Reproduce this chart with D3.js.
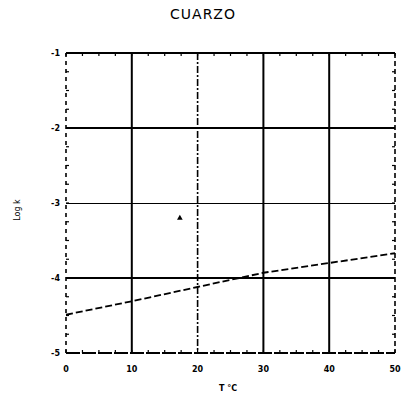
<!DOCTYPE html>
<html>
<head>
<meta charset="utf-8">
<script src="https://cdnjs.cloudflare.com/ajax/libs/d3/7.8.5/d3.min.js"></script>
<style>
body{margin:0;background:#fff;}
svg{display:block;font-family:"DejaVu Sans",sans-serif;}
</style>
</head>
<body>
<div id="chart"></div>
<script>
// data
var tempC = [0, 10, 20, 30, 40, 50];
var logK = [-4.49, -4.31, -4.12, -3.93, -3.80, -3.67];
var pointT = [17.3];
var pointLogK = [-3.2];
var xTicks = [0, 10, 20, 30, 40, 50];
var yTicks = [-1, -2, -3, -4, -5];
var gridX = [10, 20, 30, 40];
var gridY = [-2, -3, -4];

var svg = d3.select("#chart").append("svg").attr("width", 403).attr("height", 404);
var x = d3.scaleLinear().domain([0, 50]).range([66, 395]);
var y = d3.scaleLinear().domain([-1, -5]).range([53, 353]);

// grid lines (mixed styles like the scan)
var vStyle = ["", "7,2,2,2", "", ""];
var vWidth = [2, 1.6, 2, 2];
svg.selectAll(".gx").data(gridX).enter().append("line")
	.attr("x1", function(d){return x(d);}).attr("x2", function(d){return x(d);})
	.attr("y1", y(-1)).attr("y2", y(-5))
	.attr("stroke", "#000").attr("stroke-width", function(d,i){return vWidth[i];})
	.attr("stroke-dasharray", function(d,i){return vStyle[i];});
var hWidth = [2, 1, 2];
svg.selectAll(".gy").data(gridY).enter().append("line")
	.attr("x1", x(0)).attr("x2", x(50))
	.attr("y1", function(d){return y(d);}).attr("y2", function(d){return y(d);})
	.attr("stroke", "#000").attr("stroke-width", function(d,i){return hWidth[i];})
	.attr("shape-rendering", "crispEdges");

// frame
svg.append("line").attr("x1", x(0)).attr("x2", x(50)).attr("y1", y(-1)).attr("y2", y(-1))
	.attr("stroke", "#000").attr("stroke-width", 2);
svg.append("line").attr("x1", x(0)).attr("x2", x(50)).attr("y1", y(-5)).attr("y2", y(-5))
	.attr("stroke", "#000").attr("stroke-width", 2).attr("stroke-dasharray", "14,2");
svg.append("line").attr("x1", x(0)).attr("x2", x(0)).attr("y1", y(-1)).attr("y2", y(-5))
	.attr("stroke", "#000").attr("stroke-width", 1.6).attr("stroke-dasharray", "4,4");
svg.append("line").attr("x1", x(50)).attr("x2", x(50)).attr("y1", y(-1)).attr("y2", y(-5))
	.attr("stroke", "#000").attr("stroke-width", 1.6).attr("stroke-dasharray", "5,3");

// minor ticks
var minorX = d3.range(0, 51, 2.5);
svg.selectAll(".mt").data(minorX).enter().append("line")
	.attr("x1", function(d){return x(d);}).attr("x2", function(d){return x(d);})
	.attr("y1", y(-1)).attr("y2", y(-1) + 3)
	.attr("stroke", "#000").attr("stroke-width", 1.2);
svg.selectAll(".mb").data(minorX).enter().append("line")
	.attr("x1", function(d){return x(d);}).attr("x2", function(d){return x(d);})
	.attr("y1", y(-5)).attr("y2", y(-5) - 3)
	.attr("stroke", "#000").attr("stroke-width", 1.2);
var minorY = d3.range(-1, -5.01, -0.25);
svg.selectAll(".ml").data(minorY).enter().append("line")
	.attr("x1", x(0)).attr("x2", x(0) + 3)
	.attr("y1", function(d){return y(d);}).attr("y2", function(d){return y(d);})
	.attr("stroke", "#000").attr("stroke-width", 1.2);
svg.selectAll(".mr").data(minorY).enter().append("line")
	.attr("x1", x(50)).attr("x2", x(50) - 3)
	.attr("y1", function(d){return y(d);}).attr("y2", function(d){return y(d);})
	.attr("stroke", "#000").attr("stroke-width", 1.2);

// data line
var line = d3.line().x(function(d, i){return x(tempC[i]);}).y(function(d){return y(d);});
svg.append("path").datum(logK).attr("d", line)
	.attr("fill", "none").attr("stroke", "#000").attr("stroke-width", 1.8)
	.attr("stroke-dasharray", "7,3");

// single marker
svg.selectAll(".pt").data(pointT).enter().append("path")
	.attr("d", d3.symbol().type(d3.symbolTriangle).size(14))
	.attr("transform", function(d, i){return "translate(" + x(d) + "," + y(pointLogK[i]) + ")";})
	.attr("fill", "#000");

// tick labels
svg.selectAll(".xl").data(xTicks).enter().append("text")
	.attr("x", function(d){return x(d);}).attr("y", 372)
	.attr("text-anchor", "middle").attr("font-size", 8).attr("font-weight", "bold")
	.text(function(d){return d;});
svg.selectAll(".yl").data(yTicks).enter().append("text")
	.attr("x", 60).attr("y", function(d){return y(d) + 3;})
	.attr("text-anchor", "end").attr("font-size", 8).attr("font-weight", "bold")
	.text(function(d){return d;});

// titles
svg.append("text").attr("x", 203).attr("y", 19).attr("text-anchor", "middle")
	.attr("font-size", 14).attr("letter-spacing", 1).text("CUARZO");
svg.append("text").attr("x", 228).attr("y", 391).attr("text-anchor", "middle")
	.attr("font-size", 8).attr("font-weight", "bold").text("T °C");
svg.append("text").attr("transform", "translate(20,210) rotate(-90)")
	.attr("text-anchor", "middle").attr("font-size", 8).attr("fill", "#000").text("Log k");
</script>
</body>
</html>
